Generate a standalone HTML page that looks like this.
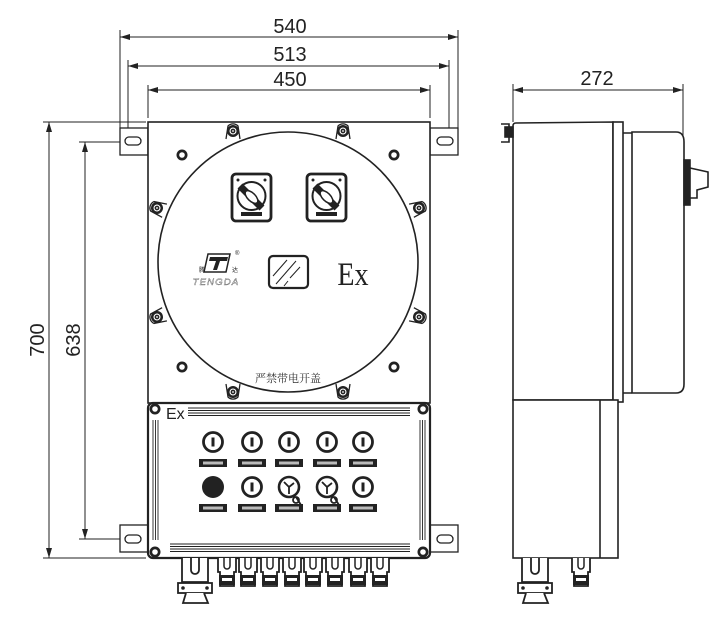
<!DOCTYPE html>
<html><head><meta charset="utf-8"><style>
html,body{margin:0;padding:0;background:#fff;}
svg{display:block;}
</style></head><body>
<svg width="716" height="626" viewBox="0 0 716 626" xmlns="http://www.w3.org/2000/svg" font-family="Liberation Sans, sans-serif">
<defs>
<marker id="a" viewBox="0 0 10 6" refX="10" refY="3" markerWidth="10" markerHeight="6" orient="auto-start-reverse" markerUnits="userSpaceOnUse"><path d="M0,0 L10,3 L0,6 z" fill="#222"/></marker>
<g id="lug"><path d="M-7,8 L-5,-5 A7,7 0 0 1 5,-5 L7,8" fill="#fff" stroke="#222" stroke-width="1.3"/><circle r="6" fill="#222"/><circle r="3.5" fill="#fff"/><circle r="2.4" fill="#222"/><circle r="0.9" fill="#fff"/></g>
<g id="bolt"><circle r="5.5" fill="#222"/><circle r="2.8" fill="#fff"/></g>
<g id="sw"><rect x="0" y="0" width="39" height="47" rx="4" fill="#fff" stroke="#222" stroke-width="2.8"/><circle cx="19.5" cy="22" r="14" fill="#fff" stroke="#222" stroke-width="2"/><path d="M8,12 L30,34" stroke="#222" stroke-width="7"/><ellipse cx="19.5" cy="23" rx="4" ry="8" transform="rotate(-45 19.5 23)" fill="#fff" stroke="#222" stroke-width="1.5"/><rect x="9" y="38" width="21" height="4" fill="#222"/><circle cx="6" cy="6" r="1.5" fill="#222"/><circle cx="33" cy="6" r="1.5" fill="#222"/></g>
<g id="btn"><circle r="9.5" fill="#fff" stroke="#222" stroke-width="2.8"/><rect x="-1.5" y="-4.5" width="3" height="9" fill="#222"/></g>
<g id="plate"><rect x="-14" y="-4" width="28" height="8" fill="#222"/><rect x="-10" y="-1.5" width="20" height="3" fill="#bbb"/></g>
<g id="gl"><path d="M-9,0 L-9,14 L-7,14 L-7,28 L7,28 L7,14 L9,14 L9,0" fill="#fff" stroke="#222" stroke-width="1.8"/><path d="M-3,0 L-3,8 A3,3 0 0 0 3,8 L3,0" fill="none" stroke="#222" stroke-width="1.5"/><rect x="-8" y="17" width="16" height="10" fill="#222"/><rect x="-5" y="20" width="10" height="3" fill="#fff"/></g>
</defs>
<g stroke="#222" stroke-width="1" fill="none">
<line x1="120" y1="30" x2="120" y2="128"/><line x1="458" y1="30" x2="458" y2="128"/>
<line x1="120" y1="37" x2="458" y2="37" marker-start="url(#a)" marker-end="url(#a)"/>
<line x1="128" y1="60" x2="128" y2="140"/><line x1="449" y1="60" x2="449" y2="140"/>
<line x1="128" y1="66" x2="449" y2="66" marker-start="url(#a)" marker-end="url(#a)"/>
<line x1="148" y1="85" x2="148" y2="118"/><line x1="430" y1="85" x2="430" y2="118"/>
<line x1="148" y1="90" x2="430" y2="90" marker-start="url(#a)" marker-end="url(#a)"/>
<line x1="43" y1="122" x2="146" y2="122"/><line x1="43" y1="558" x2="146" y2="558"/>
<line x1="49" y1="122" x2="49" y2="558" marker-start="url(#a)" marker-end="url(#a)"/>
<line x1="79" y1="142" x2="128" y2="142"/><line x1="79" y1="539" x2="128" y2="539"/>
<line x1="85" y1="142" x2="85" y2="539" marker-start="url(#a)" marker-end="url(#a)"/>
<line x1="513" y1="84" x2="513" y2="122"/><line x1="683" y1="84" x2="683" y2="160"/>
<line x1="513" y1="90" x2="683" y2="90" marker-start="url(#a)" marker-end="url(#a)"/>
<line x1="513" y1="453" x2="618" y2="453" marker-start="url(#a)" marker-end="url(#a)"/>
</g>
<g font-size="20" fill="#222" text-anchor="middle">
<text x="290" y="33">540</text><text x="290" y="61">513</text><text x="290" y="86">450</text>
<text x="597" y="85">272</text><text x="566" y="447">170</text>
<text transform="translate(44,340) rotate(-90)">700</text>
<text transform="translate(80,340) rotate(-90)">638</text>
</g>
<g stroke="#222" stroke-width="1.3" fill="#fff">
<rect x="120" y="128" width="28" height="27"/><rect x="430" y="128" width="28" height="27"/>
<rect x="120" y="525" width="28" height="27"/><rect x="430" y="525" width="28" height="27"/>
<rect x="125" y="137" width="16" height="8" rx="4"/><rect x="437" y="137" width="16" height="8" rx="4"/>
<rect x="125" y="535" width="16" height="8" rx="4"/><rect x="437" y="535" width="16" height="8" rx="4"/>
<rect x="148" y="122" width="282" height="281" stroke-width="1.6"/>
<circle cx="288" cy="262" r="130" stroke-width="1.6"/>
<rect x="148" y="403" width="282" height="155" rx="5" stroke-width="2.2"/>
</g>
<g stroke="#222" stroke-width="0.9">
<line x1="188" y1="408" x2="410" y2="408"/><line x1="188" y1="410.5" x2="410" y2="410.5"/><line x1="188" y1="413" x2="410" y2="413"/><line x1="188" y1="415.5" x2="410" y2="415.5"/>
<line x1="170" y1="544" x2="410" y2="544"/><line x1="170" y1="546.5" x2="410" y2="546.5"/><line x1="170" y1="549" x2="410" y2="549"/><line x1="170" y1="551.5" x2="410" y2="551.5"/>
<line x1="153" y1="420" x2="153" y2="540"/><line x1="155.5" y1="420" x2="155.5" y2="540"/><line x1="158" y1="420" x2="158" y2="540"/>
<line x1="420" y1="420" x2="420" y2="540"/><line x1="422.5" y1="420" x2="422.5" y2="540"/><line x1="425" y1="420" x2="425" y2="540"/>
</g>
<text x="166" y="419" font-size="16" fill="#222">Ex</text>
<g><use href="#bolt" x="155" y="409"/><use href="#bolt" x="423" y="409"/><use href="#bolt" x="155" y="552"/><use href="#bolt" x="423" y="552"/></g>
<use href="#lug" x="233" y="131"/><use href="#lug" x="343" y="131"/>
<use href="#lug" x="233" y="392" transform="rotate(180 233 392)"/><use href="#lug" x="343" y="392" transform="rotate(180 343 392)"/>
<use href="#lug" x="157" y="208" transform="rotate(-70 157 208)"/><use href="#lug" x="157" y="317" transform="rotate(-110 157 317)"/>
<use href="#lug" x="419" y="208" transform="rotate(70 419 208)"/><use href="#lug" x="419" y="317" transform="rotate(110 419 317)"/>
<use href="#bolt" x="182" y="155"/><use href="#bolt" x="394" y="155"/><use href="#bolt" x="182" y="367"/><use href="#bolt" x="394" y="367"/>
<use href="#sw" x="232" y="174"/><use href="#sw" x="307" y="174"/>
<g fill="#222">
<path d="M208,254 L230,254 L226,272 L204,272 z" fill="#fff" stroke="#222" stroke-width="1.5"/>
<path d="M210,257 L228,257 L227,261 L220,261 L217,270 L213,270 L216,261 L209,261 z"/>
<text x="199" y="272" font-size="6" font-family="Noto Sans CJK SC, sans-serif">腾</text><text x="232" y="272" font-size="6" font-family="Noto Sans CJK SC, sans-serif">达</text>
<text x="235" y="255" font-size="6">®</text>
<text x="216" y="285" font-size="9.5" font-style="italic" text-anchor="middle" letter-spacing="1.2" stroke="#222" stroke-width="0.3" fill="#fff">TENGDA</text>
</g>
<rect x="269" y="256" width="39" height="32" rx="4" fill="#fff" stroke="#222" stroke-width="2.2"/>
<g stroke="#222" stroke-width="1"><line x1="273" y1="276" x2="287" y2="260"/><line x1="276" y1="284" x2="296" y2="261"/><line x1="290" y1="278" x2="300" y2="267"/><line x1="284" y1="286" x2="288" y2="281"/></g>
<text x="353" y="285" font-family="Liberation Serif, serif" font-size="33" text-anchor="middle" fill="#222" transform="translate(353 0) scale(0.85 1) translate(-353 0)">Ex</text>
<text x="288" y="382" font-family="Noto Serif CJK SC, serif" font-size="11" text-anchor="middle" fill="#333">严禁带电开盖</text>
<use href="#btn" x="213" y="442"/><use href="#btn" x="252" y="442"/><use href="#btn" x="289" y="442"/><use href="#btn" x="327" y="442"/><use href="#btn" x="363" y="442"/>
<use href="#plate" x="213" y="463"/><use href="#plate" x="252" y="463"/><use href="#plate" x="289" y="463"/><use href="#plate" x="327" y="463"/><use href="#plate" x="363" y="463"/>
<circle cx="213" cy="487" r="11" fill="#222"/>
<use href="#btn" x="252" y="487"/><use href="#btn" x="363" y="487"/>
<g fill="#fff" stroke="#222" stroke-width="2.6"><circle cx="289" cy="487" r="10"/><circle cx="327" cy="487" r="10"/></g>
<g stroke="#222" stroke-width="1.8" fill="none"><path d="M289,487 l-5,-5 M289,487 l5,-4 M289,487 v7 M327,487 l-5,-5 M327,487 l5,-4 M327,487 v7"/><circle cx="296" cy="500" r="3"/><circle cx="334" cy="500" r="3"/><path d="M296,497 l5,8 M334,497 l5,8"/></g>
<use href="#plate" x="213" y="508"/><use href="#plate" x="252" y="508"/><use href="#plate" x="289" y="508"/><use href="#plate" x="327" y="508"/><use href="#plate" x="363" y="508"/>
<g><use href="#gl" x="227" y="558"/><use href="#gl" x="248" y="558"/><use href="#gl" x="270" y="558"/><use href="#gl" x="292" y="558"/><use href="#gl" x="313" y="558"/><use href="#gl" x="335" y="558"/><use href="#gl" x="358" y="558"/><use href="#gl" x="380" y="558"/></g>
<g stroke="#222" stroke-width="1.8" fill="#fff">
<path d="M182,558 L182,582 L208,582 L208,558"/><path d="M191,558 L191,570 A4,4 0 0 0 199,570 L199,558" fill="none"/>
<rect x="178" y="583" width="34" height="10"/><path d="M186,593 L183,603 L208,603 L204,593"/>
</g>
<g fill="#222"><circle cx="183" cy="588" r="1.8"/><circle cx="207" cy="588" r="1.8"/></g>
<g stroke="#222" stroke-width="1.6" fill="#fff">
<rect x="614" y="133" width="20" height="260" rx="3"/>
<path d="M632,132 L676,132 Q684,132 684,142 L684,384 Q684,393 676,393 L632,393 z"/>
<path d="M513,126 Q513,123 516,123 L613,122 L613,400 L513,400 z"/>
<rect x="613" y="122" width="10" height="280"/>
<rect x="513" y="400" width="105" height="158"/>
<line x1="600" y1="400" x2="600" y2="558"/>
<rect x="684" y="160" width="6" height="45" fill="#222"/>
<path d="M690,168 L708,172 L708,187 L697,190 L697,198 L690,198 z"/>
<path d="M501,124 L509,124 L509,142 L501,142" fill="none"/>
<rect x="505" y="127" width="8" height="10" fill="#222"/>
</g>
<g stroke="#222" stroke-width="1.8" fill="#fff">
<path d="M522,558 L522,582 L548,582 L548,558"/><path d="M531,558 L531,570 A4,4 0 0 0 539,570 L539,558" fill="none"/>
<rect x="518" y="583" width="34" height="10"/><path d="M526,593 L523,603 L548,603 L544,593"/>
</g>
<g fill="#222"><circle cx="523" cy="588" r="1.8"/><circle cx="547" cy="588" r="1.8"/></g>
<use href="#gl" x="581" y="558"/>
</svg>
</body></html>
